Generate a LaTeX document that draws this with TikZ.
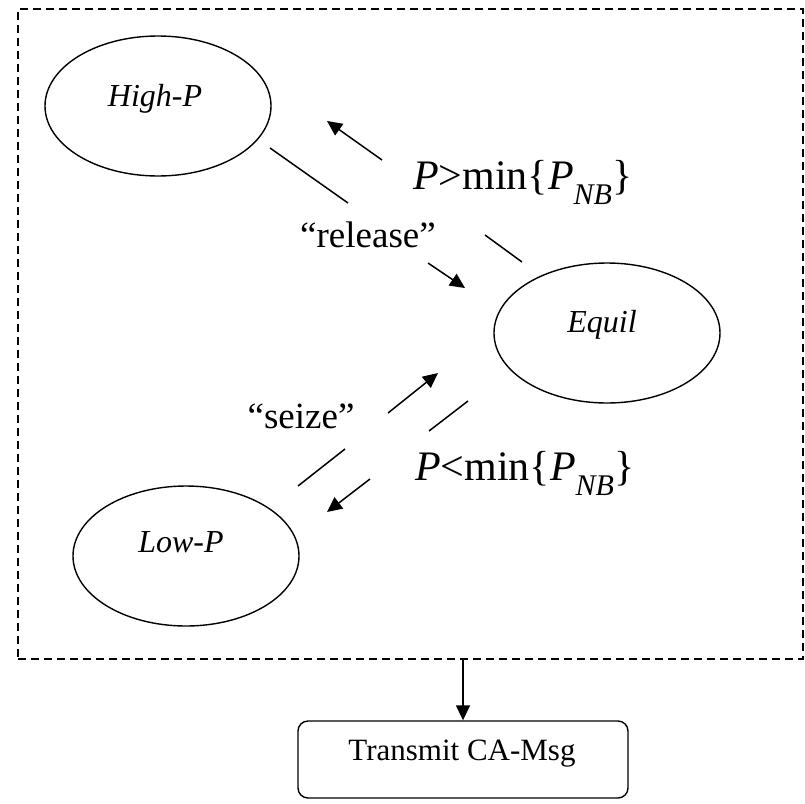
\documentclass[tikz,border=0pt]{standalone}
\usepackage{fontspec}
\setmainfont{Liberation Serif}
\usetikzlibrary{shapes.geometric,arrows.meta}
\newcommand{\pnb}{\textit{P}\raisebox{-15pt}{\fontsize{30}{36}\selectfont\itshape NB}}
\begin{document}
\begin{tikzpicture}[x=1pt,y=-1pt,
  state/.style={draw,ellipse,line width=1.4pt,minimum width=226pt,minimum height=140pt,inner sep=0pt},
  statelbl/.style={anchor=base,inner sep=0pt,font=\fontsize{32}{38}\selectfont\itshape},
  cond/.style={anchor=base west,inner sep=0pt,font=\fontsize{42}{50}\selectfont},
  quote/.style={anchor=base,inner sep=0pt,font=\fontsize{37}{44}\selectfont},
  seg/.style={line width=1.5pt},
  arr/.style={line width=1.5pt,-{Triangle[length=15pt,width=14pt]}},
]
\useasboundingbox (0,0) rectangle (805,803);

% enclosing dashed frame
\node (frame) [draw,dash pattern=on 8pt off 5pt,line width=1.6pt,
  minimum width=785pt,minimum height=650pt,inner sep=0pt] at (410.5,334) {};

% states
\node (high)  [state] at (158,106) {};
\node (equil) [state] at (607,333) {};
\node (low)   [state] at (186,556) {};
\node (highlbl)  [statelbl] at (155,106) {High-P};
\node (equillbl) [statelbl] at (602,332) {Equil};
\node (lowlbl)   [statelbl] at (181,552) {Low-P};

% transition labels
\node (rel)  [quote] at (368,247) {``release''};
\node (sei)  [quote] at (301,428) {``seize''};
\node (up)   [cond] at (413,189) {\textit{P}>min\{\pnb\}};
\node (down) [cond] at (415,480) {\textit{P}<min\{\pnb\}};

% transition segments
\coordinate (r1) at (270,148); \coordinate (r2) at (348,203);
\coordinate (r3) at (428,263); \coordinate (r4) at (465,288);
\coordinate (g1) at (382,160); \coordinate (g2) at (327,121);
\coordinate (g3) at (485,235); \coordinate (g4) at (522,262);
\coordinate (s1) at (298,486); \coordinate (s2) at (345,449);
\coordinate (s3) at (388,413); \coordinate (s4) at (438,373);
\coordinate (d1) at (468,401); \coordinate (d2) at (429,431);
\coordinate (d3) at (370,479); \coordinate (d4) at (327,512);

\draw[seg] (r1) -- (r2);
\draw[arr] (r3) -- (r4);
\draw[arr] (g1) -- (g2);
\draw[seg] (g3) -- (g4);
\draw[seg] (s1) -- (s2);
\draw[arr] (s3) -- (s4);
\draw[seg] (d1) -- (d2);
\draw[arr] (d3) -- (d4);

% output box
\node (tx) [draw,rounded corners=10pt,line width=1.4pt,
  minimum width=330pt,minimum height=77pt,inner sep=0pt] at (463,759.5) {};
\node (txlbl) [anchor=base,inner sep=0pt,font=\fontsize{31}{37}\selectfont] at (462,760) {Transmit CA-Msg};
\draw[arr] (frame.south -| tx.north) -- (tx.north);
\end{tikzpicture}
\end{document}
